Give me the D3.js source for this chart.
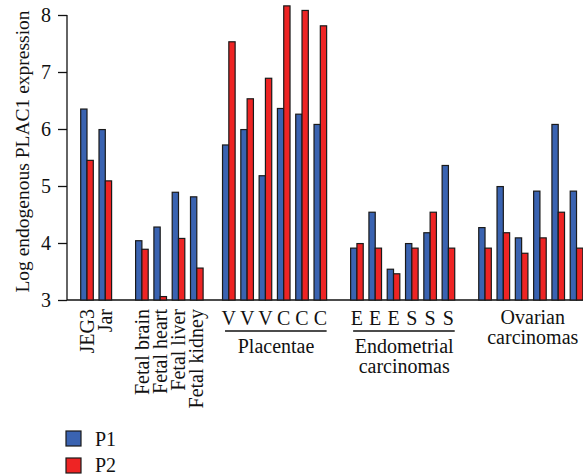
<!DOCTYPE html>
<html>
<head>
<meta charset="utf-8">
<script src="https://cdn.jsdelivr.net/npm/d3@7"></script>
<style>
  body { margin: 0; background: #fff; }
  svg { display: block; }
  text { font-family: "Liberation Serif", "DejaVu Serif", serif; fill: #111; }
</style>
</head>
<body>
<svg id="chart" width="583" height="475"></svg>
<script>
// ---- data ----
const groups = ["cells", "fetal", "Placentae", "Endometrial carcinomas", "Ovarian carcinomas"];
const categories = [
  "JEG3", "Jar",
  "Fetal brain", "Fetal heart", "Fetal liver", "Fetal kidney",
  "V", "V", "V", "C", "C", "C",
  "E", "E", "E", "S", "S", "S",
  "O1", "O2", "O3", "O4", "O5", "O6"
];
const categoryGroup = [0,0, 1,1,1,1, 2,2,2,2,2,2, 3,3,3,3,3,3, 4,4,4,4,4,4];
const p1 = [6.35, 5.99, 4.04, 4.28, 4.89, 4.81, 5.72, 5.99, 5.18, 6.36, 6.26, 6.08,
            3.91, 4.54, 3.54, 3.99, 4.18, 5.36, 4.27, 4.99, 4.09, 4.91, 6.08, 4.91];
const p2 = [5.45, 5.09, 3.89, 3.06, 4.08, 3.56, 7.53, 6.53, 6.89, 8.16, 8.08, 7.81,
            3.99, 3.91, 3.46, 3.91, 4.54, 3.91, 3.91, 4.18, 3.82, 4.09, 4.54, 3.91];
const yTicks = [3, 4, 5, 6, 7, 8];
const seriesNames = ["P1", "P2"];
const yLabel = "Log endogenous PLAC1 expression";

// ---- layout ----
const colors = ["#3a63b1", "#ee2424"];
const fs = 20;
const svg = d3.select("#chart");
const axisX = 67, baseY = 300, topY = 15;
const groupGapUnits = [0, 1.0, 0.75, 1.0, 1.0];
const cumGap = groupGapUnits.map((d, i) => d3.sum(groupGapUnits.slice(0, i + 1)));
const slotPos = categories.map((c, i) => i + cumGap[categoryGroup[i]]);
const slotW = 18.3;
const x = d3.scaleLinear().domain([0, 1]).range([80.7, 80.7 + slotW]);
const barW = 6.3;
const y = d3.scaleLinear().domain([3, 8]).range([baseY, topY]);

// y axis
const yAxis = d3.axisLeft(y).tickValues(yTicks).tickSize(9).tickPadding(7).tickFormat(d3.format("d"));
const gy = svg.append("g").attr("transform", `translate(${axisX},0)`).call(yAxis);
gy.select(".domain").remove();
gy.selectAll(".tick line").attr("stroke", "#111").attr("stroke-width", 1.3);
gy.selectAll(".tick text").attr("font-size", fs).attr("font-family", '"Liberation Serif", serif').attr("fill", "#111");
svg.append("line").attr("x1", axisX).attr("x2", axisX).attr("y1", y(8)).attr("y2", y(3))
  .attr("stroke", "#111").attr("stroke-width", 1.3);
svg.append("line").attr("x1", axisX).attr("x2", 583).attr("y1", y(3)).attr("y2", y(3))
  .attr("stroke", "#111").attr("stroke-width", 1.3);

// y label
svg.append("text")
  .attr("transform", `translate(29,${(y(8) + y(3)) / 2 - 6}) rotate(-90)`)
  .attr("text-anchor", "middle").attr("font-size", 19.5).text(yLabel);

// bars
const series = [p1, p2];
series.forEach((vals, s) => {
  svg.append("g").selectAll("rect").data(vals).join("rect")
    .attr("x", (d, i) => x(slotPos[i]) + s * barW)
    .attr("y", d => y(d))
    .attr("width", barW)
    .attr("height", d => y(3) - y(d))
    .attr("fill", colors[s])
    .attr("stroke", "#1a1a1a")
    .attr("stroke-width", 1.2);
});

const center = i => x(slotPos[i]) + barW;

// rotated category labels (groups 0 and 1)
categories.forEach((c, i) => {
  if (categoryGroup[i] > 1) return;
  svg.append("text")
    .attr("transform", `translate(${center(i)},309) rotate(-90)`)
    .attr("text-anchor", "end").attr("dy", "0.33em")
    .attr("font-size", fs).text(c);
});

// letter labels for placentae and endometrial
categories.forEach((c, i) => {
  const g = categoryGroup[i];
  if (g !== 2 && g !== 3) return;
  svg.append("text").attr("x", center(i)).attr("y", 325)
    .attr("text-anchor", "middle").attr("font-size", fs).text(c);
});

function multiline(cx, y0, str) {
  const t = svg.append("text").attr("x", cx).attr("y", y0)
    .attr("text-anchor", "middle").attr("font-size", fs);
  str.split(" ").forEach((w, k) => {
    t.append("tspan").attr("x", cx).attr("dy", k === 0 ? 0 : 19.5).text(w);
  });
}

// group bracket lines and titles
[2, 3].forEach(g => {
  const idx = d3.range(categories.length).filter(i => categoryGroup[i] === g);
  const x1 = x(slotPos[idx[0]]) + 2.5, x2 = x(slotPos[idx[idx.length - 1]]) + 2 * barW;
  svg.append("line").attr("x1", x1).attr("x2", x2).attr("y1", 331).attr("y2", 331)
    .attr("stroke", "#111").attr("stroke-width", 1.3);
  const cx = (x(slotPos[idx[0]]) + x(slotPos[idx[idx.length - 1]]) + 2 * barW) / 2 + 1.5;
  multiline(cx, 353, groups[g]);
});
{
  const g = 4;
  const idx = d3.range(categories.length).filter(i => categoryGroup[i] === g);
  const cx = (x(slotPos[idx[0]]) + x(slotPos[idx[idx.length - 1]]) + 2 * barW) / 2 + 2;
  multiline(cx, 324, groups[g]);
}

// legend
const leg = svg.append("g");
seriesNames.forEach((n, s) => {
  leg.append("rect").attr("x", 66).attr("y", 431 + s * 27).attr("width", 15).attr("height", 15)
    .attr("fill", colors[s]).attr("stroke", "#1a1a1a").attr("stroke-width", 1.2);
  leg.append("text").attr("x", 95).attr("y", 446 + s * 26).attr("font-size", fs).text(n);
});
</script>
</body>
</html>
